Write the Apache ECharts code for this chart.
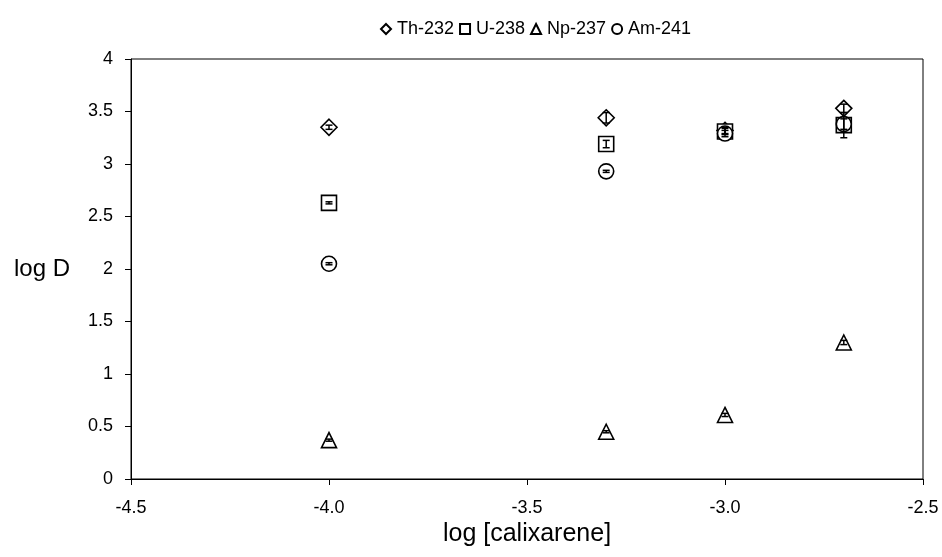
<!DOCTYPE html>
<html>
<head>
<meta charset="utf-8">
<script src="https://cdn.jsdelivr.net/npm/echarts@6/dist/echarts.min.js"></script>
<style>
  html, body { margin: 0; padding: 0; background: #fff; }
  #chart { width: 942px; height: 557px; }
</style>
</head>
<body>
<div id="chart"></div>
<script>
// log [calixarene] values
const logCalix = [-4.0, -3.3, -3.0, -2.7];

// log D for each nuclide
const th232 = [3.35, 3.44, 3.32, 3.53];
const u238  = [2.63, 3.19, 3.31, 3.37];
const np237 = [0.37, 0.45, 0.61, 1.30];
const am241 = [2.05, 2.93, 3.29, 3.38];

// error (±) on log D
const th232Err = [0.02, 0.05, 0.03, 0.04];
const u238Err  = [0.01, 0.035, 0.03, 0.12];
const np237Err = [0.01, 0.01, 0.015, 0.02];
const am241Err = [0.01, 0.01, 0.03, 0.05];

const xTicks = { min: -4.5, max: -2.5, step: 0.5 };
const yTicks = { min: 0, max: 4, step: 0.5 };

const FONT = '"Liberation Sans", Arial, sans-serif';

function pairs(ys) {
  return logCalix.map((x, i) => [x, ys[i]]);
}

function scatter(name, symbol, ys) {
  return {
    name: name,
    type: 'scatter',
    symbol: symbol,
    symbolSize: symbol === 'diamond' ? 16 : 15,
    itemStyle: { color: '#fff', borderColor: '#000', borderWidth: 1.6, opacity: 1 },
    data: pairs(ys),
    z: 3
  };
}

function errorBars(ys, errs) {
  return {
    type: 'custom',
    silent: true,
    z: 5,
    data: logCalix.map((x, i) => [x, ys[i] - errs[i], ys[i] + errs[i]]),
    renderItem: function (params, api) {
      const lo = api.coord([api.value(0), api.value(1)]);
      const hi = api.coord([api.value(0), api.value(2)]);
      const w = 3.5;
      const style = { stroke: '#000', lineWidth: 1.5 };
      return {
        type: 'group',
        children: [
          { type: 'line', shape: { x1: lo[0], y1: lo[1], x2: hi[0], y2: hi[1] }, style: style },
          { type: 'line', shape: { x1: lo[0] - w, y1: lo[1], x2: lo[0] + w, y2: lo[1] }, style: style },
          { type: 'line', shape: { x1: hi[0] - w, y1: hi[1], x2: hi[0] + w, y2: hi[1] }, style: style }
        ]
      };
    }
  };
}

const chart = echarts.init(document.getElementById('chart'), null, { renderer: 'canvas' });

chart.setOption({
  animation: false,
  backgroundColor: '#fff',
  textStyle: { fontFamily: FONT, color: '#000' },
  grid: { left: 131, right: 19, top: 59, bottom: 78, show: true, borderColor: '#000', borderWidth: 1 },
  legend: {
    top: 15,
    left: 375,
    itemWidth: 10,
    itemHeight: 10,
    itemGap: 5,
    textStyle: { fontFamily: FONT, fontSize: 18, color: '#000', padding: [0, 0, 0, 1] },
    data: ['Th-232', 'U-238', 'Np-237', 'Am-241']
  },
  xAxis: {
    type: 'value',
    min: xTicks.min,
    max: xTicks.max,
    interval: xTicks.step,
    name: 'log [calixarene]',
    nameLocation: 'middle',
    nameGap: 42,
    nameTextStyle: { fontFamily: FONT, fontSize: 25, color: '#000' },
    axisLine: { onZero: false, lineStyle: { color: '#000', width: 1 } },
    axisTick: { show: true, inside: false, length: 6, lineStyle: { color: '#000' } },
    axisLabel: { margin: 20, fontFamily: FONT, fontSize: 18, color: '#000', formatter: v => v.toFixed(1) },
    splitLine: { show: false }
  },
  yAxis: {
    type: 'value',
    min: yTicks.min,
    max: yTicks.max,
    interval: yTicks.step,
    name: 'log D',
    nameLocation: 'middle',
    nameRotate: 0,
    nameGap: 61,
    nameTextStyle: { fontFamily: FONT, fontSize: 24, color: '#000' },
    axisLine: { show: true, lineStyle: { color: '#000', width: 1 } },
    axisTick: { show: true, inside: false, length: 6, lineStyle: { color: '#000' } },
    axisLabel: { margin: 18, fontFamily: FONT, fontSize: 18, color: '#000' },
    splitLine: { show: false }
  },
  series: [
    scatter('Th-232', 'diamond', th232),
    scatter('U-238', 'rect', u238),
    scatter('Np-237', 'triangle', np237),
    scatter('Am-241', 'circle', am241),
    errorBars(th232, th232Err),
    errorBars(u238, u238Err),
    errorBars(np237, np237Err),
    errorBars(am241, am241Err)
  ]
});
</script>
</body>
</html>
